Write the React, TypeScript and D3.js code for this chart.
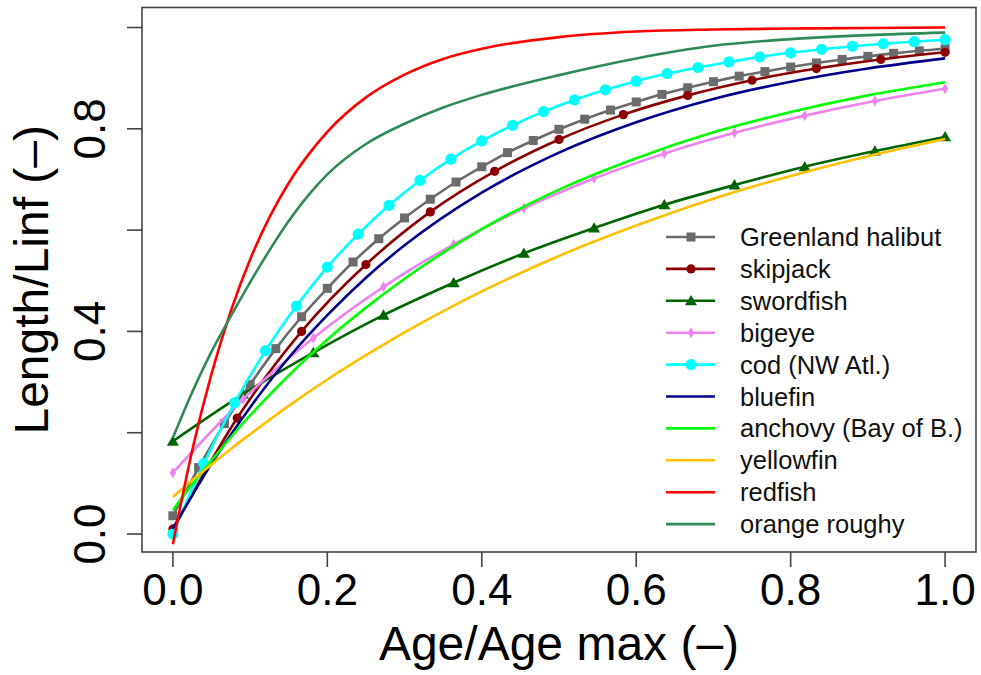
import React from "react";
import * as d3 from "d3";

// ---------- data ----------
const xTickValues = [0, 0.2, 0.4, 0.6, 0.8, 1.0];
const xTickLabels = ["0.0", "0.2", "0.4", "0.6", "0.8", "1.0"];
const yTickValues = [0, 0.2, 0.4, 0.6, 0.8, 1.0];
const yTickLabels = ["0.0", "", "0.4", "", "0.8", ""];

const seriesNames = [
  "Greenland halibut",
  "skipjack",
  "swordfish",
  "bigeye",
  "cod (NW Atl.)",
  "bluefin",
  "anchovy (Bay of B.)",
  "yellowfin",
  "redfish",
  "orange roughy",
];
const seriesColors = [
  "#6b6b6b",
  "#8b0000",
  "#006400",
  "#ee82ee",
  "#00ffff",
  "#00008b",
  "#00ff00",
  "#ffc000",
  "#ff0000",
  "#2e8b57",
];
const seriesMarkers = ["square", "circle", "triangle", "diamond", "bigcircle", "none", "none", "none", "none", "none"];

// Greenland halibut: markers every 1/30 of max age
const halibutAges = d3.range(0, 31).map((k) => k / 30);
const halibutValues = [
  0.036, 0.131, 0.218, 0.295, 0.366, 0.429, 0.485, 0.537, 0.583, 0.624, 0.661,
  0.695, 0.725, 0.753, 0.777, 0.799, 0.819, 0.837, 0.853, 0.868, 0.881, 0.893,
  0.904, 0.913, 0.922, 0.930, 0.937, 0.943, 0.949, 0.954, 0.958,
];

// skipjack: markers every 1/12
const skipjackAges = d3.range(0, 13).map((k) => k / 12);
const skipjackValues = [0.010, 0.229, 0.400, 0.532, 0.636, 0.716, 0.779, 0.828, 0.866, 0.896, 0.919, 0.937, 0.951];

// swordfish: markers every 1/11
const swordfishAges = d3.range(0, 12).map((k) => k / 11);
const swordfishValues = [0.183, 0.276, 0.358, 0.432, 0.496, 0.554, 0.604, 0.650, 0.689, 0.725, 0.756, 0.784];

// bigeye: markers every 1/11
const bigeyeAges = d3.range(0, 12).map((k) => k / 11);
const bigeyeValues = [0.121, 0.266, 0.387, 0.488, 0.572, 0.643, 0.702, 0.751, 0.792, 0.826, 0.855, 0.879];

// cod (NW Atl.): markers every 1/25
const codAges = d3.range(0, 26).map((k) => k / 25);
const codValues = [
  0.0, 0.139, 0.259, 0.362, 0.450, 0.527, 0.592, 0.649, 0.698, 0.740, 0.776,
  0.807, 0.834, 0.857, 0.877, 0.894, 0.909, 0.921, 0.932, 0.942, 0.950, 0.957,
  0.963, 0.968, 0.972, 0.976,
];

// curves without markers, sampled at these relative ages
const curveAges = [0, 0.025, 0.05, 0.075, 0.1, 0.15, 0.2, 0.25, 0.3, 0.4, 0.5, 0.6, 0.7, 0.8, 0.9, 1.0];
const bluefinValues = [0.010, 0.076, 0.139, 0.196, 0.250, 0.348, 0.432, 0.506, 0.570, 0.674, 0.753, 0.813, 0.859, 0.893, 0.919, 0.939];
const anchovyValues = [0.047, 0.098, 0.145, 0.191, 0.234, 0.313, 0.384, 0.447, 0.504, 0.602, 0.680, 0.742, 0.793, 0.833, 0.866, 0.892];
const yellowfinValues = [0.073, 0.106, 0.137, 0.168, 0.197, 0.253, 0.305, 0.353, 0.398, 0.479, 0.549, 0.609, 0.662, 0.707, 0.746, 0.780];

// fast-growing curves, sampled more finely at young ages
const fastAges = [0, 0.025, 0.05, 0.075, 0.1, 0.125, 0.15, 0.175, 0.2, 0.25, 0.3, 0.35, 0.4, 0.5, 0.6, 0.7, 0.8, 0.9, 1.0];
const redfishValues = [-0.020, 0.165, 0.316, 0.440, 0.542, 0.625, 0.693, 0.748, 0.794, 0.862, 0.907, 0.938, 0.958, 0.981, 0.992, 0.996, 0.998, 0.999, 1.0];
const orangeRoughyValues = [0.190, 0.280, 0.360, 0.430, 0.497, 0.560, 0.618, 0.668, 0.710, 0.770, 0.810, 0.842, 0.867, 0.906, 0.939, 0.964, 0.977, 0.985, 0.990];

const seriesAges = [
  halibutAges, skipjackAges, swordfishAges, bigeyeAges, codAges,
  curveAges, curveAges, curveAges, fastAges, fastAges,
];
const seriesValues = [
  halibutValues, skipjackValues, swordfishValues, bigeyeValues, codValues,
  bluefinValues, anchovyValues, yellowfinValues, redfishValues, orangeRoughyValues,
];

// ---------- layout ----------
const W = 981;
const H = 675;
const box = { left: 142, right: 976, top: 7.5, bottom: 552 };
const FONT = "'Liberation Sans', Arial, Helvetica, sans-serif";

const x = d3.scaleLinear().domain([-0.04, 1.04]).range([box.left, box.right]);
const y = d3.scaleLinear().domain([-0.0355, 1.0395]).range([box.bottom, box.top]);

function Marker({ type, cx, cy, color }: { type: string; cx: number; cy: number; color: string }) {
  if (type === "square") {
    return <rect x={cx - 4.5} y={cy - 4.5} width={9} height={9} fill={color} />;
  }
  if (type === "circle") {
    return <circle cx={cx} cy={cy} r={4.6} fill={color} />;
  }
  if (type === "bigcircle") {
    return <circle cx={cx} cy={cy} r={5.6} fill={color} />;
  }
  if (type === "triangle") {
    const p = d3.symbol().type(d3.symbolTriangle).size(62)();
    return <path d={p || ""} transform={`translate(${cx},${cy + 1})`} fill={color} />;
  }
  if (type === "diamond") {
    const p = d3.symbol().type(d3.symbolDiamond).size(34)();
    return <path d={p || ""} transform={`translate(${cx},${cy})`} fill={color} />;
  }
  return null;
}

export default function App() {
  const line = d3
    .line<[number, number]>()
    .x((d) => x(d[0]))
    .y((d) => y(d[1]))
    .curve(d3.curveMonotoneX);

  const legendX0 = 666;
  const legendX1 = 715;
  const legendMid = 691;
  const legendText = 740;
  const legendTop = 237;
  const legendStep = 31.9;

  return (
    <svg
      width={W}
      height={H}
      viewBox={`0 0 ${W} ${H}`}
      style={{ position: "absolute", left: 0, top: 0, background: "#fff" }}
      fontFamily={FONT}
    >
      <rect x={0} y={0} width={W} height={H} fill="#fff" />
      <defs>
        <clipPath id="plotClip">
          <rect x={box.left} y={box.top} width={box.right - box.left} height={box.bottom - box.top} />
        </clipPath>
      </defs>

      {/* curves */}
      <g clipPath="url(#plotClip)">
        {seriesNames.map((name, i) => {
          const pts: [number, number][] = seriesAges[i].map((a, j) => [a, seriesValues[i][j]]);
          return (
            <g key={name}>
              <path d={line(pts) || ""} fill="none" stroke={seriesColors[i]} strokeWidth={2.6} strokeLinejoin="round" />
              {seriesMarkers[i] !== "none" &&
                pts.map((p, j) => (
                  <Marker key={j} type={seriesMarkers[i]} cx={x(p[0])} cy={y(p[1])} color={seriesColors[i]} />
                ))}
            </g>
          );
        })}
      </g>

      {/* box */}
      <rect
        x={box.left}
        y={box.top}
        width={box.right - box.left}
        height={box.bottom - box.top}
        fill="none"
        stroke="#444"
        strokeWidth={1.6}
      />

      {/* x axis */}
      <g>
        {xTickValues.map((v, i) => (
          <g key={v}>
            <line x1={x(v)} x2={x(v)} y1={box.bottom} y2={box.bottom + 15} stroke="#444" strokeWidth={1.6} />
            <text x={x(v)} y={605} textAnchor="middle" fontSize={44} fill="#000">
              {xTickLabels[i]}
            </text>
          </g>
        ))}
        <text x={(box.left + box.right) / 2} y={660} textAnchor="middle" fontSize={48} fill="#000">
          Age/Age max (–)
        </text>
      </g>

      {/* y axis */}
      <g>
        {yTickValues.map((v, i) => (
          <g key={v}>
            <line x1={box.left} x2={box.left - 15} y1={y(v)} y2={y(v)} stroke="#444" strokeWidth={1.6} />
            {yTickLabels[i] !== "" && (
              <text
                transform={`translate(105,${y(v)}) rotate(-90)`}
                textAnchor="middle"
                fontSize={44}
                fill="#000"
              >
                {yTickLabels[i]}
              </text>
            )}
          </g>
        ))}
        <text
          transform={`translate(48,${(box.top + box.bottom) / 2}) rotate(-90)`}
          textAnchor="middle"
          fontSize={48}
          fill="#000"
        >
          Length/Linf (–)
        </text>
      </g>

      {/* legend */}
      <g>
        {seriesNames.map((name, i) => {
          const cy = legendTop + i * legendStep;
          return (
            <g key={name}>
              <line x1={legendX0} x2={legendX1} y1={cy} y2={cy} stroke={seriesColors[i]} strokeWidth={2.6} />
              {seriesMarkers[i] !== "none" && (
                <Marker type={seriesMarkers[i]} cx={legendMid} cy={cy} color={seriesColors[i]} />
              )}
              <text x={legendText} y={cy + 9} fontSize={25.5} fill="#111">
                {name}
              </text>
            </g>
          );
        })}
      </g>
    </svg>
  );
}
